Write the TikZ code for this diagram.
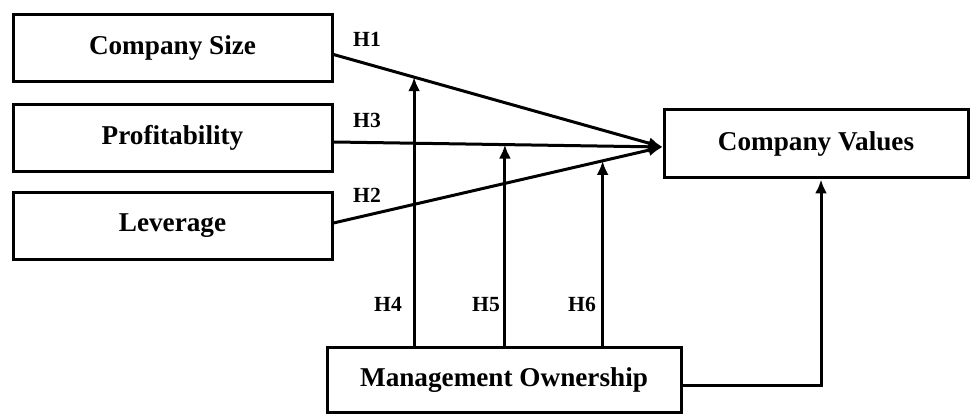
\documentclass[tikz,border=0pt]{standalone}
\usepackage{fontspec}
\setmainfont{Liberation Serif}
\usetikzlibrary{arrows.meta}

\begin{document}
\begin{tikzpicture}[x=0.5pt,y=-0.5pt,
  var/.style={draw,line width=1.5pt,minimum width=159.5pt,minimum height=33.5pt,
    inner sep=0pt,font=\fontsize{13.6}{16}\selectfont\bfseries},
  hyp/.style={inner sep=0pt,anchor=base,font=\fontsize{10.8}{12}\selectfont\bfseries},
  link/.style={line width=1.5pt,-{Latex[length=7pt,width=6pt]}}]
\useasboundingbox (0,0) rectangle (972,415);

% Independent variables
\node[var] (size) at (172.5,48.5) {Company Size};
\node[var] (prof) at (172.5,138) {Profitability};
\node[var] (lev)  at (172.5,226) {Leverage};

% Dependent and moderating variables
\node[var,minimum width=152pt,minimum height=34pt] (values) at (816,144) {Company Values};
\node[var,minimum width=177pt,minimum height=32.5pt] (owner) at (504,380.5) {Management Ownership};

% Direct paths
\coordinate (hub) at ([yshift=-1.5pt]values.west);
\draw[link] ([yshift=-3pt]size.east) -- (hub) coordinate[pos=0.245] (m4);
\draw[link] ([yshift=-2pt]prof.east) -- (hub) coordinate[pos=0.521] (m5);
\draw[link] ([yshift=1.5pt]lev.east) -- (hub) coordinate[pos=0.818] (m6);

% Moderating paths
\draw[link] (owner.north -| m4) -- (m4);
\draw[link] (owner.north -| m5) -- (m5);
\draw[link] (owner.north -| m6) -- (m6);
\draw[link] ([yshift=-2.5pt]owner.east) -| ([xshift=2.5pt]values.south);

% Hypotheses
\node[hyp] (h1) at (367,47) {H1};
\node[hyp] (h3) at (367,128) {H3};
\node[hyp] (h2) at (367,203) {H2};
\node[hyp] (h4) at (388,312) {H4};
\node[hyp] (h5) at (486,312) {H5};
\node[hyp] (h6) at (582,312) {H6};
\end{tikzpicture}
\end{document}
